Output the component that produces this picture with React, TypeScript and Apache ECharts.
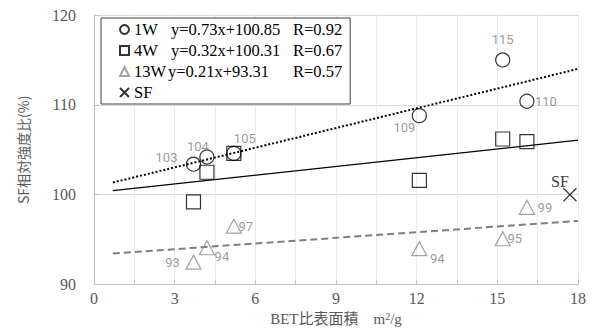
import React, { useEffect, useRef } from "react";
import * as echarts from "echarts";

const xValues = [3.7, 4.2, 5.2, 12.1, 15.2, 16.1];
const w1Values = [103.4, 104.2, 104.6, 108.8, 115.0, 110.4];
const w4Values = [99.2, 102.5, 104.6, 101.6, 106.2, 105.9];
const w13Values = [92.5, 94.1, 96.5, 94.0, 95.1, 98.6];
const sfPoint = [17.7, 100];
const trend1W = [[0.7, 101.36], [18, 114.0]];
const trend4W = [[0.7, 100.45], [18, 106.07]];
const trend13W = [[0.7, 93.46], [18, 97.09]];
const seriesNames = ["1W", "4W", "13W", "SF"];
const equations = ["y=0.73x+100.85", "y=0.32x+100.31", "y=0.21x+93.31"];
const rValues = ["R=0.92", "R=0.67", "R=0.57"];
const w1LabelOffsets = [[-27, -7], [-9, -10], [11, -15], [-15, 12], [0, -20], [19, 0]];
const w13LabelOffsets = [[-21, 0], [15, 9], [12, 0], [18, 10], [12, 0], [18, 0]];

const SERIF = "'Liberation Serif', 'Times New Roman', serif";
const SANS_LABEL = "Roboto, 'Noto Sans', sans-serif";

export default function App() {
  const ref = useRef<HTMLDivElement>(null);
  useEffect(() => {
    if (!ref.current) return;
    const chart = echarts.init(ref.current, undefined, { renderer: "svg" });
    const labelStyle = {
      show: true,
      position: "inside" as const,
      color: "#7f7f7f",
      fontFamily: SANS_LABEL,
      fontSize: 13,
      formatter: (p: any) => String(Math.round(p.value[1])),
    };
    const legendText = (w?: number) => ({ width: w, fontFamily: SERIF, fontSize: 16.5, color: "#000" });
    const option: any = {
      animation: false,
      grid: { left: 94, right: 14, top: 15, bottom: 44 },
      legend: {
        data: seriesNames,
        orient: "vertical",
        left: 101,
        top: 18,
        padding: [3, 8, 3, 18],
        itemGap: 4,
        itemWidth: 9,
        itemHeight: 9,
        backgroundColor: "#ffffff",
        borderColor: "#404040",
        borderWidth: 1,
        borderRadius: 0,
        align: "left",
        textStyle: {
          fontFamily: SERIF,
          fontSize: 16.5,
          color: "#000",
          lineHeight: 17,
          rich: {
            n1: legendText(37),
            n2: legendText(34),
            e1: legendText(122),
            e2: legendText(125),
            r: legendText(),
          },
        },
        formatter: (name: string) => {
          const i = seriesNames.indexOf(name);
          if (i < 0 || i > 2) return name;
          const n = i === 2 ? "n2" : "n1";
          const e = i === 2 ? "e2" : "e1";
          return `{${n}|${name}}{${e}|${equations[i]}}{r|${rValues[i]}}`;
        },
      },
      xAxis: {
        type: "value",
        min: 0,
        max: 18,
        interval: 1.5,
        name: "BET比表面積　m{sup|2}/g",
        nameLocation: "middle",
        nameGap: 24,
        nameTextStyle: {
          fontFamily: SERIF + ", 'Noto Sans CJK JP'",
          fontSize: 15,
          color: "#595959",
          rich: {
            sup: { fontSize: 10, verticalAlign: "top", padding: [0, 0, 6, 0], color: "#595959", fontFamily: SERIF },
          },
        },
        axisLine: { show: true, lineStyle: { color: "#bfbfbf" } },
        axisTick: { show: true, inside: true, length: 5, lineStyle: { color: "#bfbfbf" } },
        axisLabel: {
          fontFamily: SERIF,
          fontSize: 16,
          color: "#595959",
          margin: 6,
          formatter: (v: number) => (v % 3 === 0 ? String(v) : ""),
        },
        splitLine: { show: true, lineStyle: { color: "#ebebeb" } },
      },
      yAxis: {
        type: "value",
        min: 90,
        max: 120,
        interval: 10,
        name: "SF相対強度比(%)",
        nameLocation: "middle",
        nameRotate: 90,
        nameGap: 64,
        nameTextStyle: { fontFamily: "'Noto Sans CJK JP', sans-serif", fontSize: 14, color: "#595959" },
        axisLine: { show: true, lineStyle: { color: "#bfbfbf" } },
        axisTick: { show: true, inside: true, length: 5, lineStyle: { color: "#bfbfbf" } },
        axisLabel: { fontFamily: SERIF, fontSize: 16, color: "#595959", margin: 18 },
        splitLine: { show: true, lineStyle: { color: "#d9d9d9" } },
      },
      series: [
        {
          name: "1W",
          type: "scatter",
          symbol: "circle",
          symbolSize: 14,
          itemStyle: { color: "transparent", borderColor: "#000", borderWidth: 1.2 },
          data: xValues.map((x, i) => ({
            value: [x, w1Values[i]],
            label: { ...labelStyle, offset: w1LabelOffsets[i] },
          })),
          z: 5,
        },
        {
          name: "4W",
          type: "scatter",
          symbol: "rect",
          symbolSize: 14,
          itemStyle: { color: "transparent", borderColor: "#000", borderWidth: 1.2 },
          data: xValues.map((x, i) => [x, w4Values[i]]),
          z: 5,
        },
        {
          name: "13W",
          type: "scatter",
          symbol: "triangle",
          symbolSize: [15, 14],
          itemStyle: { color: "transparent", borderColor: "#8c8c8c", borderWidth: 1.2 },
          data: xValues.map((x, i) => ({
            value: [x, w13Values[i]],
            label: { ...labelStyle, offset: w13LabelOffsets[i] },
          })),
          z: 5,
        },
        {
          name: "SF",
          type: "scatter",
          symbol: "path://M0,0L10,10M10,0L0,10",
          symbolSize: 13,
          itemStyle: { color: "transparent", borderColor: "#000", borderWidth: 1.2 },
          data: [
            {
              value: sfPoint,
              label: {
                show: true,
                position: "inside",
                offset: [-10, -13],
                formatter: "SF",
                color: "#000",
                fontFamily: SERIF,
                fontSize: 16,
              },
            },
          ],
          z: 5,
        },
        {
          name: "trend1W",
          type: "line",
          data: trend1W,
          symbol: "none",
          lineStyle: { color: "#000", width: 2, type: [2, 2] },
          silent: true,
          z: 3,
        },
        {
          name: "trend4W",
          type: "line",
          data: trend4W,
          symbol: "none",
          lineStyle: { color: "#000", width: 1.2, type: "solid" },
          silent: true,
          z: 3,
        },
        {
          name: "trend13W",
          type: "line",
          data: trend13W,
          symbol: "none",
          lineStyle: { color: "#7f7f7f", width: 2, type: [7, 4] },
          silent: true,
          z: 3,
        },
      ],
    };
    chart.setOption(option);
    return () => chart.dispose();
  }, []);
  return <div ref={ref} style={{ width: 592, height: 332, position: "absolute", left: 0, top: 0 }} />;
}
